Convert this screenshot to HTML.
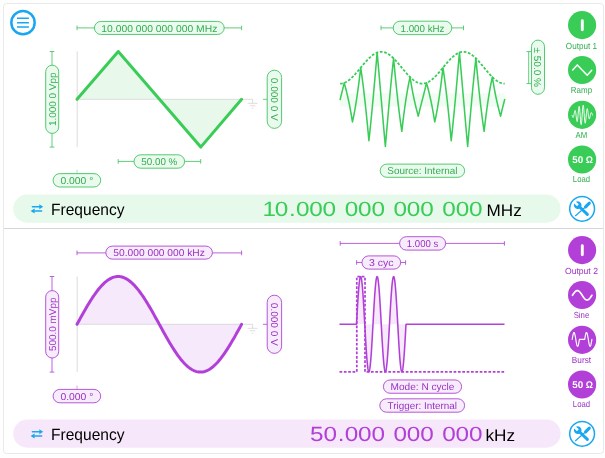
<!DOCTYPE html>
<html><head><meta charset="utf-8"><title>Waveform Generator</title>
<style>html,body{margin:0;padding:0;background:#fefefe;font-family:"Liberation Sans",sans-serif;}svg{display:block;will-change:transform;transform:translateZ(0);}</style></head>
<body>
<svg width="605" height="458" viewBox="0 0 605 458" font-family="'Liberation Sans', sans-serif" text-rendering="geometricPrecision">
<rect width="605" height="458" fill="#fefefe"/>
<rect x="3.5" y="3.5" width="600" height="450" rx="3.2" fill="#fff" stroke="#e9e9e9" stroke-width="1"/>
<path d="M4 228.5H603" stroke="#d6d6d6" stroke-width="1"/>
<circle cx="23" cy="22.7" r="11.65" fill="none" stroke="#19a7f1" stroke-width="2.5"/>
<path d="M17 18.3H28.9M17 22.65H28.9M17 27H28.9" stroke="#19a7f1" stroke-width="1.55"/>
<path d="M77.2 51.5V147.1" stroke="#d6d6d6" stroke-width="0.85" fill="none"/>
<path d="M77 99.3L118.25 51.5L200.75 147.1L241.6 99.3Z" fill="#e8f9ec" stroke="none"/>
<path d="M77 99.3H241.6" stroke="#cfcfcf" stroke-width="0.7" fill="none"/>
<path d="M241.6 99.3H252.6V103.3M247.6 103.3H257.6M249.8 105.8H255.4M251.8 108.3H253.4" stroke="#cfcfcf" stroke-width="0.7" fill="none"/>
<path d="M77 99.3L118.25 51.5L200.75 147.1L241.6 99.3" fill="none" stroke="#39cd58" stroke-width="3" stroke-linecap="round" stroke-linejoin="round"/>
<path d="M77 27.9H241.6M77 25.6V30.2M241.6 25.6V30.2" stroke="#37c156" stroke-width="0.8" fill="none"/>
<rect x="94.4" y="21.45" width="129.8" height="13" rx="6.5" fill="#ebfaee" stroke="#37c156" stroke-width="0.85"/>
<text x="159.3" y="31.6" font-size="9.9" fill="#31ae50" text-anchor="middle" textLength="116" lengthAdjust="spacingAndGlyphs">10.000 000 000 000 MHz</text>
<path d="M52 51.5V147.1M49.7 51.5H54.3M49.7 147.1H54.3" stroke="#37c156" stroke-width="0.8" fill="none"/>
<rect x="45.7" y="65.2" width="13" height="68.2" rx="6.5" fill="#ebfaee" stroke="#37c156" stroke-width="0.85"/>
<text transform="translate(52.2 99.3) rotate(-90)" x="0" y="3.65" font-size="9.9" fill="#31ae50" text-anchor="middle" textLength="53.5" lengthAdjust="spacingAndGlyphs">1.000 0 Vpp</text>
<path d="M263 99.3H267.2" stroke="#39cd58" stroke-width="0.8"/>
<rect x="267.2" y="70.2" width="14.4" height="58.2" rx="7.2" fill="#ebfaee" stroke="#37c156" stroke-width="0.85"/>
<text transform="translate(274.4 99.3) rotate(90)" x="0" y="3.65" font-size="9.9" fill="#31ae50" text-anchor="middle" textLength="43" lengthAdjust="spacingAndGlyphs">0.000 0 V</text>
<path d="M118.2 161.4H200.7M118.2 159.1V163.7M200.7 159.1V163.7" stroke="#37c156" stroke-width="0.8" fill="none"/>
<rect x="134" y="154.8" width="50.6" height="13.4" rx="6.7" fill="#ebfaee" stroke="#37c156" stroke-width="0.85"/>
<text x="159.3" y="165.15" font-size="9.9" fill="#31ae50" text-anchor="middle" textLength="36" lengthAdjust="spacingAndGlyphs">50.00 %</text>
<path d="M77 169.8V173.7" stroke="#39cd58" stroke-width="0.8" opacity="0.6"/>
<rect x="53.1" y="173.6" width="47.6" height="13.4" rx="6.7" fill="#ebfaee" stroke="#37c156" stroke-width="0.85"/>
<text x="76.9" y="183.95" font-size="9.9" fill="#31ae50" text-anchor="middle" textLength="33" lengthAdjust="spacingAndGlyphs">0.000 °</text>
<rect x="13.2" y="194.6" width="547.4" height="28.1" rx="14.05" fill="#e7f9eb"/>
<g fill="#19a7f1" stroke="#19a7f1" stroke-width="1.5" stroke-linecap="round"><path d="M32.4 206.7H39.5" fill="none"/><path d="M39.3 204.2L43.2 206.7L39.3 209.2Z" stroke="none"/><path d="M34.6 211.1H41.6" fill="none"/><path d="M34.6 208.6L30.6 211.1L34.6 213.6Z" stroke="none"/></g>
<text x="51" y="215.4" font-size="16.2" fill="#000" textLength="73.5" lengthAdjust="spacingAndGlyphs">Frequency</text>
<text transform="scale(1.18 1)" x="222.46 232.8 244.98 250.75 262.08 273.42 284.76 292.09 303.43 314.77 326.11 333.44 344.78 356.12 367.46 374.79 386.13 397.47" y="216.3" font-size="20.6" fill="#39cd58">10.000 000 000 000</text>
<text x="486.6" y="216" font-size="16.6" fill="#000" textLength="35.2" lengthAdjust="spacingAndGlyphs">MHz</text>
<circle cx="582.1" cy="208.8" r="12.4" fill="none" stroke="#19a7f1" stroke-width="1.5"/>
<g transform="translate(582.1 208.8)" fill="#19a7f1" stroke="#19a7f1"><path d="M3.5 -1.9L7.2 -5.7" stroke-width="3.1" stroke-linecap="round" fill="none"/><path d="M3.6 -2L-6.6 6.9" stroke-width="1.15" stroke-linecap="round" fill="none"/><g transform="translate(-4.4 -3.7) rotate(223.8)"><path d="M-2 0H-13.4" stroke-width="2.95" stroke-linecap="round" fill="none"/><path d="M-0.3 -1.3L3.62 -1.3A3.85 3.85 0 1 0 3.62 1.3L-0.3 1.3Z" stroke="none"/></g></g>
<circle cx="582.1" cy="25.1" r="14.1" fill="#39cd58"/>
<text x="581.45" y="48.7" font-size="8.8" fill="#31ae50" text-anchor="middle" textLength="31.2" lengthAdjust="spacingAndGlyphs">Output 1</text>
<circle cx="582.1" cy="70" r="14.1" fill="#39cd58"/>
<text x="581.45" y="93.35" font-size="8.8" fill="#31ae50" text-anchor="middle" textLength="21.3" lengthAdjust="spacingAndGlyphs">Ramp</text>
<circle cx="582.1" cy="114.8" r="14.1" fill="#39cd58"/>
<text x="581.45" y="138.05" font-size="8.8" fill="#31ae50" text-anchor="middle" textLength="11.7" lengthAdjust="spacingAndGlyphs">AM</text>
<circle cx="582.1" cy="159.5" r="14.1" fill="#39cd58"/>
<text x="581.45" y="182.2" font-size="8.8" fill="#31ae50" text-anchor="middle" textLength="17.2" lengthAdjust="spacingAndGlyphs">Load</text>
<path d="M582.3 20.8V29.8" stroke="#fff" stroke-width="2.9" stroke-linecap="round"/>
<path d="M572.7 70L577.3 64.9L587.2 75.3L591.7 70.3" fill="none" stroke="#fff" stroke-width="1.5" stroke-linecap="round" stroke-linejoin="round"/>
<path d="M572.1 115.42L572.2 115.73L572.3 116.05L572.41 116.35L572.51 116.64L572.61 116.9L572.71 117.12L572.81 117.3L572.92 117.43L573.02 117.5L573.12 117.5L573.22 117.43L573.32 117.3L573.43 117.09L573.53 116.81L573.63 116.47L573.73 116.06L573.83 115.6L573.94 115.1L574.04 114.57L574.14 114.01L574.24 113.44L574.34 112.89L574.45 112.35L574.55 111.86L574.65 111.42L574.75 111.04L574.85 110.75L574.96 110.55L575.06 110.45L575.16 110.47L575.26 110.6L575.36 110.84L575.47 111.21L575.57 111.68L575.67 112.26L575.77 112.93L575.87 113.68L575.98 114.49L576.08 115.35L576.18 116.23L576.28 117.11L576.38 117.97L576.49 118.79L576.59 119.53L576.69 120.19L576.79 120.74L576.89 121.15L577 121.42L577.1 121.54L577.2 121.49L577.3 121.27L577.4 120.88L577.51 120.33L577.61 119.62L577.71 118.78L577.81 117.81L577.91 116.73L578.02 115.59L578.12 114.39L578.22 113.18L578.32 111.97L578.42 110.82L578.53 109.73L578.63 108.75L578.73 107.9L578.83 107.21L578.93 106.7L579.04 106.38L579.14 106.27L579.24 106.37L579.34 106.69L579.44 107.22L579.55 107.95L579.65 108.87L579.75 109.95L579.85 111.17L579.95 112.51L580.06 113.92L580.16 115.37L580.26 116.83L580.36 118.26L580.46 119.63L580.57 120.89L580.67 122.01L580.77 122.96L580.87 123.73L580.97 124.28L581.08 124.6L581.18 124.68L581.28 124.52L581.38 124.12L581.48 123.49L581.59 122.65L581.69 121.61L581.79 120.4L581.89 119.06L581.99 117.61L582.1 116.1L582.2 114.55L582.3 113.02L582.4 111.53L582.5 110.14L582.61 108.86L582.71 107.74L582.81 106.8L582.91 106.07L583.01 105.56L583.12 105.28L583.22 105.24L583.32 105.44L583.42 105.87L583.52 106.52L583.63 107.37L583.73 108.4L583.83 109.57L583.93 110.86L584.03 112.23L584.14 113.65L584.24 115.08L584.34 116.49L584.44 117.83L584.54 119.08L584.65 120.2L584.75 121.18L584.85 121.98L584.95 122.59L585.05 123.01L585.16 123.21L585.26 123.21L585.36 123L585.46 122.6L585.56 122.01L585.67 121.27L585.77 120.39L585.87 119.39L585.97 118.32L586.07 117.18L586.18 116.02L586.28 114.87L586.38 113.74L586.48 112.68L586.58 111.71L586.69 110.84L586.79 110.1L586.89 109.51L586.99 109.06L587.09 108.77L587.2 108.64L587.3 108.67L587.4 108.86L587.5 109.18L587.6 109.64L587.71 110.2L587.81 110.86L587.91 111.6L588.01 112.39L588.11 113.2L588.22 114.03L588.32 114.85L588.42 115.63L588.52 116.36L588.62 117.02L588.73 117.6L588.83 118.09L588.93 118.48L589.03 118.76L589.13 118.94L589.24 119L589.34 118.96L589.44 118.83L589.54 118.6L589.64 118.29L589.75 117.92L589.85 117.48L589.95 117.01L590.05 116.51L590.15 116L590.26 115.48L590.36 114.98L590.46 114.51L590.56 114.07L590.66 113.67L590.77 113.33L590.87 113.05L590.97 112.83L591.07 112.67L591.17 112.58L591.28 112.56L591.38 112.59L591.48 112.68L591.58 112.81L591.68 112.99L591.79 113.21L591.89 113.46L591.99 113.72L592.09 114L592.19 114.28L592.3 114.56L592.4 114.83L592.5 115.08" fill="none" stroke="#fff" stroke-width="1.0" stroke-linecap="round" stroke-linejoin="round"/>
<text x="572.2" y="162.95" font-size="9.8" font-weight="bold" fill="#fff" textLength="10.9" lengthAdjust="spacingAndGlyphs">50</text>
<text x="585.7" y="162.95" font-size="9.8" font-weight="bold" fill="#fff" textLength="7.2" lengthAdjust="spacingAndGlyphs">Ω</text>
<rect x="340.1" y="93.5" width="164.6" height="13" fill="#f1fcf3"/>
<path d="M340.1 99.5L340.31 98.7L340.51 97.91L340.72 97.11L340.92 96.31L341.13 95.51L341.33 94.71L341.54 93.9L341.75 93.09L341.95 92.27L342.16 91.45L342.36 90.62L342.57 89.79L342.77 88.95L342.98 88.1L343.19 87.25L343.39 86.38L343.6 85.51L343.8 84.62L344.01 83.73L344.22 82.82L344.42 83.58L344.63 84.34L344.83 85.11L345.04 85.89L345.24 86.67L345.45 87.45L345.66 88.25L345.86 89.05L346.07 89.86L346.27 90.68L346.48 91.51L346.68 92.35L346.89 93.2L347.1 94.07L347.3 94.94L347.51 95.82L347.71 96.72L347.92 97.64L348.12 98.56L348.33 99.5L348.54 100.45L348.74 101.42L348.95 102.41L349.15 103.41L349.36 104.43L349.56 105.46L349.77 106.51L349.98 107.58L350.18 108.67L350.39 109.78L350.59 110.9L350.8 112.05L351 113.21L351.21 114.4L351.42 115.61L351.62 116.83L351.83 118.08L352.03 119.35L352.24 120.64L352.44 121.95L352.65 121.02L352.86 120.08L353.06 119.11L353.27 118.12L353.47 117.12L353.68 116.09L353.89 115.05L354.09 113.98L354.3 112.9L354.5 111.79L354.71 110.66L354.91 109.51L355.12 108.34L355.33 107.15L355.53 105.93L355.74 104.69L355.94 103.43L356.15 102.14L356.35 100.83L356.56 99.5L356.77 98.14L356.97 96.76L357.18 95.36L357.38 93.93L357.59 92.48L357.79 91L358 89.5L358.21 87.97L358.41 86.42L358.62 84.84L358.82 83.24L359.03 81.62L359.23 79.96L359.44 78.29L359.65 76.59L359.85 74.86L360.06 73.11L360.26 71.33L360.47 69.53L360.68 67.7L360.88 69.05L361.09 70.43L361.29 71.83L361.5 73.26L361.7 74.71L361.91 76.19L362.12 77.7L362.32 79.22L362.53 80.78L362.73 82.36L362.94 83.96L363.14 85.59L363.35 87.24L363.56 88.92L363.76 90.62L363.97 92.35L364.17 94.1L364.38 95.88L364.58 97.68L364.79 99.5L365 101.35L365.2 103.22L365.41 105.11L365.61 107.03L365.82 108.97L366.02 110.93L366.23 112.92L366.44 114.93L366.64 116.96L366.85 119.01L367.05 121.08L367.26 123.18L367.46 125.29L367.67 127.43L367.88 129.58L368.08 131.76L368.29 133.95L368.49 136.16L368.7 138.4L368.91 140.65L369.11 138.78L369.32 136.89L369.52 134.98L369.73 133.05L369.93 131.09L370.14 129.12L370.35 127.13L370.55 125.11L370.76 123.08L370.96 121.02L371.17 118.95L371.37 116.86L371.58 114.75L371.79 112.62L371.99 110.47L372.2 108.31L372.4 106.13L372.61 103.94L372.81 101.73L373.02 99.5L373.23 97.26L373.43 95L373.64 92.74L373.84 90.46L374.05 88.16L374.25 85.85L374.46 83.54L374.67 81.21L374.87 78.87L375.08 76.52L375.28 74.16L375.49 71.79L375.69 69.41L375.9 67.03L376.11 64.63L376.31 62.23L376.52 59.83L376.72 57.42L376.93 55L377.13 52.58L377.34 54.85L377.55 57.14L377.75 59.43L377.96 61.74L378.16 64.05L378.37 66.38L378.58 68.71L378.78 71.05L378.99 73.4L379.19 75.75L379.4 78.11L379.6 80.47L379.81 82.84L380.02 85.21L380.22 87.59L380.43 89.97L380.63 92.35L380.84 94.73L381.04 97.12L381.25 99.5L381.46 101.88L381.66 104.27L381.87 106.65L382.07 109.03L382.28 111.41L382.48 113.79L382.69 116.16L382.9 118.53L383.1 120.89L383.31 123.25L383.51 125.6L383.72 127.95L383.92 130.29L384.13 132.62L384.34 134.95L384.54 137.26L384.75 139.57L384.95 141.86L385.16 144.15L385.37 146.42L385.57 144L385.78 141.58L385.98 139.17L386.19 136.77L386.39 134.37L386.6 131.97L386.81 129.59L387.01 127.21L387.22 124.84L387.42 122.48L387.63 120.13L387.83 117.79L388.04 115.46L388.25 113.15L388.45 110.84L388.66 108.54L388.86 106.26L389.07 104L389.27 101.74L389.48 99.5L389.69 97.27L389.89 95.06L390.1 92.87L390.3 90.69L390.51 88.53L390.71 86.38L390.92 84.25L391.13 82.14L391.33 80.05L391.54 77.98L391.74 75.92L391.95 73.89L392.15 71.87L392.36 69.88L392.57 67.91L392.77 65.95L392.98 64.02L393.18 62.11L393.39 60.22L393.6 58.35L393.8 60.6L394.01 62.84L394.21 65.05L394.42 67.24L394.62 69.42L394.83 71.57L395.04 73.71L395.24 75.82L395.45 77.92L395.65 79.99L395.86 82.04L396.06 84.07L396.27 86.08L396.48 88.07L396.68 90.03L396.89 91.97L397.09 93.89L397.3 95.78L397.5 97.65L397.71 99.5L397.92 101.32L398.12 103.12L398.33 104.9L398.53 106.65L398.74 108.38L398.94 110.08L399.15 111.76L399.36 113.41L399.56 115.04L399.77 116.64L399.97 118.22L400.18 119.78L400.38 121.3L400.59 122.81L400.8 124.29L401 125.74L401.21 127.17L401.41 128.57L401.62 129.95L401.82 131.3L402.03 129.47L402.24 127.67L402.44 125.89L402.65 124.14L402.85 122.41L403.06 120.71L403.27 119.04L403.47 117.38L403.68 115.76L403.88 114.16L404.09 112.58L404.29 111.03L404.5 109.5L404.71 108L404.91 106.52L405.12 105.07L405.32 103.64L405.53 102.24L405.73 100.86L405.94 99.5L406.15 98.17L406.35 96.86L406.56 95.57L406.76 94.31L406.97 93.07L407.17 91.85L407.38 90.66L407.59 89.49L407.79 88.34L408 87.21L408.2 86.1L408.41 85.02L408.61 83.95L408.82 82.91L409.03 81.88L409.23 80.88L409.44 79.89L409.64 78.92L409.85 77.98L410.06 77.05L410.26 78.36L410.47 79.65L410.67 80.92L410.88 82.17L411.08 83.39L411.29 84.6L411.5 85.79L411.7 86.95L411.91 88.1L412.11 89.22L412.32 90.33L412.52 91.42L412.73 92.49L412.94 93.54L413.14 94.57L413.35 95.59L413.55 96.59L413.76 97.58L413.96 98.55L414.17 99.5L414.38 100.44L414.58 101.36L414.79 102.28L414.99 103.18L415.2 104.06L415.4 104.93L415.61 105.8L415.82 106.65L416.02 107.49L416.23 108.32L416.43 109.14L416.64 109.95L416.84 110.75L417.05 111.55L417.26 112.33L417.46 113.11L417.67 113.89L417.87 114.66L418.08 115.42L418.28 116.18L418.49 115.27L418.7 114.38L418.9 113.49L419.11 112.62L419.31 111.75L419.52 110.9L419.73 110.05L419.93 109.21L420.14 108.38L420.34 107.55L420.55 106.73L420.75 105.91L420.96 105.1L421.17 104.29L421.37 103.49L421.58 102.69L421.78 101.89L421.99 101.09L422.19 100.3L422.4 99.5L422.61 98.7L422.81 97.91L423.02 97.11L423.22 96.31L423.43 95.51L423.63 94.71L423.84 93.9L424.05 93.09L424.25 92.27L424.46 91.45L424.66 90.62L424.87 89.79L425.07 88.95L425.28 88.1L425.49 87.25L425.69 86.38L425.9 85.51L426.1 84.62L426.31 83.73L426.51 82.82L426.72 83.58L426.93 84.34L427.13 85.11L427.34 85.89L427.54 86.67L427.75 87.45L427.96 88.25L428.16 89.05L428.37 89.86L428.57 90.68L428.78 91.51L428.98 92.35L429.19 93.2L429.4 94.07L429.6 94.94L429.81 95.82L430.01 96.72L430.22 97.64L430.42 98.56L430.63 99.5L430.84 100.45L431.04 101.42L431.25 102.41L431.45 103.41L431.66 104.43L431.86 105.46L432.07 106.51L432.28 107.58L432.48 108.67L432.69 109.78L432.89 110.9L433.1 112.05L433.3 113.21L433.51 114.4L433.72 115.61L433.92 116.83L434.13 118.08L434.33 119.35L434.54 120.64L434.75 121.95L434.95 121.02L435.16 120.08L435.36 119.11L435.57 118.12L435.77 117.12L435.98 116.09L436.19 115.05L436.39 113.98L436.6 112.9L436.8 111.79L437.01 110.66L437.21 109.51L437.42 108.34L437.63 107.15L437.83 105.93L438.04 104.69L438.24 103.43L438.45 102.14L438.65 100.83L438.86 99.5L439.07 98.14L439.27 96.76L439.48 95.36L439.68 93.93L439.89 92.48L440.09 91L440.3 89.5L440.51 87.97L440.71 86.42L440.92 84.84L441.12 83.24L441.33 81.62L441.53 79.96L441.74 78.29L441.95 76.59L442.15 74.86L442.36 73.11L442.56 71.33L442.77 69.53L442.98 67.7L443.18 69.05L443.39 70.43L443.59 71.83L443.8 73.26L444 74.71L444.21 76.19L444.42 77.7L444.62 79.22L444.83 80.78L445.03 82.36L445.24 83.96L445.44 85.59L445.65 87.24L445.86 88.92L446.06 90.62L446.27 92.35L446.47 94.1L446.68 95.88L446.88 97.68L447.09 99.5L447.3 101.35L447.5 103.22L447.71 105.11L447.91 107.03L448.12 108.97L448.32 110.93L448.53 112.92L448.74 114.93L448.94 116.96L449.15 119.01L449.35 121.08L449.56 123.18L449.76 125.29L449.97 127.43L450.18 129.58L450.38 131.76L450.59 133.95L450.79 136.16L451 138.4L451.21 140.65L451.41 138.78L451.62 136.89L451.82 134.98L452.03 133.05L452.23 131.09L452.44 129.12L452.65 127.13L452.85 125.11L453.06 123.08L453.26 121.02L453.47 118.95L453.67 116.86L453.88 114.75L454.09 112.62L454.29 110.47L454.5 108.31L454.7 106.13L454.91 103.94L455.11 101.73L455.32 99.5L455.53 97.26L455.73 95L455.94 92.74L456.14 90.46L456.35 88.16L456.55 85.85L456.76 83.54L456.97 81.21L457.17 78.87L457.38 76.52L457.58 74.16L457.79 71.79L457.99 69.41L458.2 67.03L458.41 64.63L458.61 62.23L458.82 59.83L459.02 57.42L459.23 55L459.44 52.58L459.64 54.85L459.85 57.14L460.05 59.43L460.26 61.74L460.46 64.05L460.67 66.38L460.88 68.71L461.08 71.05L461.29 73.4L461.49 75.75L461.7 78.11L461.9 80.47L462.11 82.84L462.32 85.21L462.52 87.59L462.73 89.97L462.93 92.35L463.14 94.73L463.34 97.12L463.55 99.5L463.76 101.88L463.96 104.27L464.17 106.65L464.37 109.03L464.58 111.41L464.78 113.79L464.99 116.16L465.2 118.53L465.4 120.89L465.61 123.25L465.81 125.6L466.02 127.95L466.22 130.29L466.43 132.62L466.64 134.95L466.84 137.26L467.05 139.57L467.25 141.86L467.46 144.15L467.67 146.42L467.87 144L468.08 141.58L468.28 139.17L468.49 136.77L468.69 134.37L468.9 131.97L469.11 129.59L469.31 127.21L469.52 124.84L469.72 122.48L469.93 120.13L470.13 117.79L470.34 115.46L470.55 113.15L470.75 110.84L470.96 108.54L471.16 106.26L471.37 104L471.57 101.74L471.78 99.5L471.99 97.27L472.19 95.06L472.4 92.87L472.6 90.69L472.81 88.53L473.01 86.38L473.22 84.25L473.43 82.14L473.63 80.05L473.84 77.98L474.04 75.92L474.25 73.89L474.45 71.87L474.66 69.88L474.87 67.91L475.07 65.95L475.28 64.02L475.48 62.11L475.69 60.22L475.89 58.35L476.1 60.6L476.31 62.84L476.51 65.05L476.72 67.24L476.92 69.42L477.13 71.57L477.34 73.71L477.54 75.82L477.75 77.92L477.95 79.99L478.16 82.04L478.36 84.07L478.57 86.08L478.78 88.07L478.98 90.03L479.19 91.97L479.39 93.89L479.6 95.78L479.8 97.65L480.01 99.5L480.22 101.32L480.42 103.12L480.63 104.9L480.83 106.65L481.04 108.38L481.24 110.08L481.45 111.76L481.66 113.41L481.86 115.04L482.07 116.64L482.27 118.22L482.48 119.78L482.68 121.3L482.89 122.81L483.1 124.29L483.3 125.74L483.51 127.17L483.71 128.57L483.92 129.95L484.12 131.3L484.33 129.47L484.54 127.67L484.74 125.89L484.95 124.14L485.15 122.41L485.36 120.71L485.57 119.04L485.77 117.38L485.98 115.76L486.18 114.16L486.39 112.58L486.59 111.03L486.8 109.5L487.01 108L487.21 106.52L487.42 105.07L487.62 103.64L487.83 102.24L488.03 100.86L488.24 99.5L488.45 98.17L488.65 96.86L488.86 95.57L489.06 94.31L489.27 93.07L489.47 91.85L489.68 90.66L489.89 89.49L490.09 88.34L490.3 87.21L490.5 86.1L490.71 85.02L490.91 83.95L491.12 82.91L491.33 81.88L491.53 80.88L491.74 79.89L491.94 78.92L492.15 77.98L492.36 77.05L492.56 78.36L492.77 79.65L492.97 80.92L493.18 82.17L493.38 83.39L493.59 84.6L493.8 85.79L494 86.95L494.21 88.1L494.41 89.22L494.62 90.33L494.82 91.42L495.03 92.49L495.24 93.54L495.44 94.57L495.65 95.59L495.85 96.59L496.06 97.58L496.26 98.55L496.47 99.5L496.68 100.44L496.88 101.36L497.09 102.28L497.29 103.18L497.5 104.06L497.7 104.93L497.91 105.8L498.12 106.65L498.32 107.49L498.53 108.32L498.73 109.14L498.94 109.95L499.14 110.75L499.35 111.55L499.56 112.33L499.76 113.11L499.97 113.89L500.17 114.66L500.38 115.42L500.58 116.18L500.79 115.27L501 114.38L501.2 113.49L501.41 112.62L501.61 111.75L501.82 110.9L502.03 110.05L502.23 109.21L502.44 108.38L502.64 107.55L502.85 106.73L503.05 105.91L503.26 105.1L503.47 104.29L503.67 103.49L503.88 102.69L504.08 101.89L504.29 101.09L504.49 100.3L504.7 99.5" fill="none" stroke="#39cd58" stroke-width="1.55" stroke-linejoin="round" stroke-linecap="round"/>
<path d="M340.1 83.6L341.1 83.55L342.1 83.42L343.09 83.19L344.09 82.87L345.09 82.46L346.09 81.97L347.08 81.39L348.08 80.74L349.08 80.01L350.08 79.21L351.07 78.34L352.07 77.41L353.07 76.42L354.07 75.39L355.06 74.31L356.06 73.19L357.06 72.03L358.06 70.86L359.05 69.66L360.05 68.46L361.05 67.25L362.05 66.04L363.04 64.84L364.04 63.66L365.04 62.5L366.04 61.37L367.03 60.28L368.03 59.23L369.03 58.23L370.03 57.29L371.02 56.4L372.02 55.59L373.02 54.84L374.02 54.16L375.02 53.57L376.01 53.05L377.01 52.63L378.01 52.28L379.01 52.03L380 51.87L381 51.8L382 51.83L383 51.94L383.99 52.15L384.99 52.44L385.99 52.83L386.99 53.3L387.98 53.86L388.98 54.49L389.98 55.2L390.98 55.99L391.97 56.84L392.97 57.75L393.97 58.73L394.97 59.75L395.96 60.82L396.96 61.93L397.96 63.08L398.96 64.25L399.95 65.44L400.95 66.64L401.95 67.85L402.95 69.06L403.94 70.26L404.94 71.45L405.94 72.61L406.94 73.75L407.94 74.85L408.93 75.91L409.93 76.92L410.93 77.88L411.93 78.78L412.92 79.62L413.92 80.38L414.92 81.08L415.92 81.69L416.91 82.23L417.91 82.68L418.91 83.04L419.91 83.31L420.9 83.5L421.9 83.59L422.9 83.59L423.9 83.5L424.89 83.31L425.89 83.04L426.89 82.68L427.89 82.23L428.88 81.69L429.88 81.08L430.88 80.38L431.88 79.62L432.87 78.78L433.87 77.88L434.87 76.92L435.87 75.91L436.86 74.85L437.86 73.75L438.86 72.61L439.86 71.45L440.86 70.26L441.85 69.06L442.85 67.85L443.85 66.64L444.85 65.44L445.84 64.25L446.84 63.08L447.84 61.93L448.84 60.82L449.83 59.75L450.83 58.73L451.83 57.75L452.83 56.84L453.82 55.99L454.82 55.2L455.82 54.49L456.82 53.86L457.81 53.3L458.81 52.83L459.81 52.44L460.81 52.15L461.8 51.94L462.8 51.83L463.8 51.8L464.8 51.87L465.79 52.03L466.79 52.28L467.79 52.63L468.79 53.05L469.78 53.57L470.78 54.16L471.78 54.84L472.78 55.59L473.78 56.4L474.77 57.29L475.77 58.23L476.77 59.23L477.77 60.28L478.76 61.37L479.76 62.5L480.76 63.66L481.76 64.84L482.75 66.04L483.75 67.25L484.75 68.46L485.75 69.66L486.74 70.86L487.74 72.03L488.74 73.19L489.74 74.31L490.73 75.39L491.73 76.42L492.73 77.41L493.73 78.34L494.72 79.21L495.72 80.01L496.72 80.74L497.72 81.39L498.71 81.97L499.71 82.46L500.71 82.87L501.71 83.19L502.7 83.42L503.7 83.55L504.7 83.6" fill="none" stroke="#39cd58" stroke-width="1.8" stroke-dasharray="2.7 1.65"/>
<path d="M381 27.9H463.5M381 25.6V30.2M463.5 25.6V30.2" stroke="#37c156" stroke-width="0.8" fill="none"/>
<rect x="393.2" y="21.2" width="58.6" height="13.4" rx="6.7" fill="#ebfaee" stroke="#37c156" stroke-width="0.85"/>
<text x="422.5" y="31.55" font-size="9.9" fill="#31ae50" text-anchor="middle" textLength="44" lengthAdjust="spacingAndGlyphs">1.000 kHz</text>
<path d="M528.7 51.6V83.6M526.4 51.6H531M526.4 83.6H531" stroke="#37c156" stroke-width="0.8" fill="none"/>
<rect x="531.5" y="40.1" width="13" height="54.2" rx="6.5" fill="#ebfaee" stroke="#37c156" stroke-width="0.85"/>
<text transform="translate(538 67.2) rotate(90)" x="0" y="3.65" font-size="9.9" fill="#31ae50" text-anchor="middle" textLength="39.5" lengthAdjust="spacingAndGlyphs">± 50.0 %</text>
<rect x="380.2" y="164.1" width="84.4" height="13.2" rx="6.6" fill="#ebfaee" stroke="#37c156" stroke-width="0.85"/>
<text x="422.4" y="174.35" font-size="9.9" fill="#31ae50" text-anchor="middle" textLength="70.2" lengthAdjust="spacingAndGlyphs">Source: Internal</text>
<path d="M77.2 276.5V372.1" stroke="#d6d6d6" stroke-width="0.85" fill="none"/>
<path d="M77 324.3L78 322.48L79 320.66L79.99 318.85L80.99 317.05L81.99 315.25L82.99 313.47L83.98 311.71L84.98 309.96L85.98 308.24L86.98 306.53L87.97 304.86L88.97 303.21L89.97 301.59L90.97 300.01L91.96 298.46L92.96 296.95L93.96 295.47L94.96 294.04L95.95 292.66L96.95 291.31L97.95 290.02L98.95 288.78L99.94 287.59L100.94 286.45L101.94 285.36L102.94 284.34L103.93 283.37L104.93 282.46L105.93 281.61L106.93 280.82L107.92 280.1L108.92 279.43L109.92 278.84L110.92 278.31L111.92 277.85L112.91 277.45L113.91 277.12L114.91 276.87L115.91 276.68L116.9 276.55L117.9 276.5L118.9 276.52L119.9 276.61L120.89 276.76L121.89 276.99L122.89 277.28L123.89 277.64L124.88 278.07L125.88 278.57L126.88 279.13L127.88 279.76L128.87 280.45L129.87 281.21L130.87 282.02L131.87 282.9L132.86 283.84L133.86 284.84L134.86 285.9L135.86 287.01L136.85 288.18L137.85 289.39L138.85 290.66L139.85 291.98L140.84 293.34L141.84 294.75L142.84 296.2L143.84 297.7L144.84 299.23L145.83 300.8L146.83 302.4L147.83 304.03L148.83 305.69L149.82 307.38L150.82 309.1L151.82 310.83L152.82 312.59L153.81 314.36L154.81 316.15L155.81 317.95L156.81 319.76L157.8 321.57L158.8 323.39L159.8 325.21L160.8 327.03L161.79 328.84L162.79 330.65L163.79 332.45L164.79 334.24L165.78 336.01L166.78 337.77L167.78 339.5L168.78 341.22L169.77 342.91L170.77 344.57L171.77 346.2L172.77 347.8L173.76 349.37L174.76 350.9L175.76 352.4L176.76 353.85L177.76 355.26L178.75 356.62L179.75 357.94L180.75 359.21L181.75 360.42L182.74 361.59L183.74 362.7L184.74 363.76L185.74 364.76L186.73 365.7L187.73 366.58L188.73 367.39L189.73 368.15L190.72 368.84L191.72 369.47L192.72 370.03L193.72 370.53L194.71 370.96L195.71 371.32L196.71 371.61L197.71 371.84L198.7 371.99L199.7 372.08L200.7 372.1L201.7 372.05L202.69 371.92L203.69 371.73L204.69 371.48L205.69 371.15L206.68 370.75L207.68 370.29L208.68 369.76L209.68 369.17L210.68 368.5L211.67 367.78L212.67 366.99L213.67 366.14L214.67 365.23L215.66 364.26L216.66 363.24L217.66 362.15L218.66 361.01L219.65 359.82L220.65 358.58L221.65 357.29L222.65 355.94L223.64 354.56L224.64 353.13L225.64 351.65L226.64 350.14L227.63 348.59L228.63 347.01L229.63 345.39L230.63 343.74L231.62 342.07L232.62 340.36L233.62 338.64L234.62 336.89L235.61 335.13L236.61 333.35L237.61 331.55L238.61 329.75L239.6 327.94L240.6 326.12L241.6 324.3Z" fill="#f6e9fb" stroke="none"/>
<path d="M77 324.3H241.6" stroke="#cfcfcf" stroke-width="0.7" fill="none"/>
<path d="M241.6 324.3H252.6V328.3M247.6 328.3H257.6M249.8 330.8H255.4M251.8 333.3H253.4" stroke="#cfcfcf" stroke-width="0.7" fill="none"/>
<path d="M77 324.3L78 322.48L79 320.66L79.99 318.85L80.99 317.05L81.99 315.25L82.99 313.47L83.98 311.71L84.98 309.96L85.98 308.24L86.98 306.53L87.97 304.86L88.97 303.21L89.97 301.59L90.97 300.01L91.96 298.46L92.96 296.95L93.96 295.47L94.96 294.04L95.95 292.66L96.95 291.31L97.95 290.02L98.95 288.78L99.94 287.59L100.94 286.45L101.94 285.36L102.94 284.34L103.93 283.37L104.93 282.46L105.93 281.61L106.93 280.82L107.92 280.1L108.92 279.43L109.92 278.84L110.92 278.31L111.92 277.85L112.91 277.45L113.91 277.12L114.91 276.87L115.91 276.68L116.9 276.55L117.9 276.5L118.9 276.52L119.9 276.61L120.89 276.76L121.89 276.99L122.89 277.28L123.89 277.64L124.88 278.07L125.88 278.57L126.88 279.13L127.88 279.76L128.87 280.45L129.87 281.21L130.87 282.02L131.87 282.9L132.86 283.84L133.86 284.84L134.86 285.9L135.86 287.01L136.85 288.18L137.85 289.39L138.85 290.66L139.85 291.98L140.84 293.34L141.84 294.75L142.84 296.2L143.84 297.7L144.84 299.23L145.83 300.8L146.83 302.4L147.83 304.03L148.83 305.69L149.82 307.38L150.82 309.1L151.82 310.83L152.82 312.59L153.81 314.36L154.81 316.15L155.81 317.95L156.81 319.76L157.8 321.57L158.8 323.39L159.8 325.21L160.8 327.03L161.79 328.84L162.79 330.65L163.79 332.45L164.79 334.24L165.78 336.01L166.78 337.77L167.78 339.5L168.78 341.22L169.77 342.91L170.77 344.57L171.77 346.2L172.77 347.8L173.76 349.37L174.76 350.9L175.76 352.4L176.76 353.85L177.76 355.26L178.75 356.62L179.75 357.94L180.75 359.21L181.75 360.42L182.74 361.59L183.74 362.7L184.74 363.76L185.74 364.76L186.73 365.7L187.73 366.58L188.73 367.39L189.73 368.15L190.72 368.84L191.72 369.47L192.72 370.03L193.72 370.53L194.71 370.96L195.71 371.32L196.71 371.61L197.71 371.84L198.7 371.99L199.7 372.08L200.7 372.1L201.7 372.05L202.69 371.92L203.69 371.73L204.69 371.48L205.69 371.15L206.68 370.75L207.68 370.29L208.68 369.76L209.68 369.17L210.68 368.5L211.67 367.78L212.67 366.99L213.67 366.14L214.67 365.23L215.66 364.26L216.66 363.24L217.66 362.15L218.66 361.01L219.65 359.82L220.65 358.58L221.65 357.29L222.65 355.94L223.64 354.56L224.64 353.13L225.64 351.65L226.64 350.14L227.63 348.59L228.63 347.01L229.63 345.39L230.63 343.74L231.62 342.07L232.62 340.36L233.62 338.64L234.62 336.89L235.61 335.13L236.61 333.35L237.61 331.55L238.61 329.75L239.6 327.94L240.6 326.12L241.6 324.3" fill="none" stroke="#b240d8" stroke-width="3" stroke-linecap="round" stroke-linejoin="round"/>
<path d="M77 252.9H241.6M77 250.6V255.2M241.6 250.6V255.2" stroke="#a93bd0" stroke-width="0.8" fill="none"/>
<rect x="105.8" y="246.1" width="106.6" height="13" rx="6.5" fill="#f7ecfb" stroke="#a93bd0" stroke-width="0.85"/>
<text x="159.1" y="256.25" font-size="9.9" fill="#9b30c3" text-anchor="middle" textLength="91.5" lengthAdjust="spacingAndGlyphs">50.000 000 000 kHz</text>
<path d="M52 276.5V372.1M49.7 276.5H54.3M49.7 372.1H54.3" stroke="#a93bd0" stroke-width="0.8" fill="none"/>
<rect x="45.7" y="290.6" width="13" height="67.4" rx="6.5" fill="#f7ecfb" stroke="#a93bd0" stroke-width="0.85"/>
<text transform="translate(52.2 324.3) rotate(-90)" x="0" y="3.65" font-size="9.9" fill="#9b30c3" text-anchor="middle" textLength="53.5" lengthAdjust="spacingAndGlyphs">500.0 mVpp</text>
<path d="M263 324.3H267.2" stroke="#b240d8" stroke-width="0.8"/>
<rect x="267.2" y="295.2" width="14.4" height="58.2" rx="7.2" fill="#f7ecfb" stroke="#a93bd0" stroke-width="0.85"/>
<text transform="translate(274.4 324.3) rotate(90)" x="0" y="3.65" font-size="9.9" fill="#9b30c3" text-anchor="middle" textLength="43" lengthAdjust="spacingAndGlyphs">0.000 0 V</text>
<path d="M77 385.6V389.5" stroke="#b240d8" stroke-width="0.8" opacity="0.6"/>
<rect x="53.1" y="389.4" width="47.6" height="13.4" rx="6.7" fill="#f7ecfb" stroke="#a93bd0" stroke-width="0.85"/>
<text x="76.9" y="399.75" font-size="9.9" fill="#9b30c3" text-anchor="middle" textLength="33" lengthAdjust="spacingAndGlyphs">0.000 °</text>
<rect x="13.2" y="419.6" width="547.4" height="28.1" rx="14.05" fill="#f6e8fa"/>
<g fill="#19a7f1" stroke="#19a7f1" stroke-width="1.5" stroke-linecap="round"><path d="M32.4 431.7H39.5" fill="none"/><path d="M39.3 429.2L43.2 431.7L39.3 434.2Z" stroke="none"/><path d="M34.6 436.1H41.6" fill="none"/><path d="M34.6 433.6L30.6 436.1L34.6 438.6Z" stroke="none"/></g>
<text x="51" y="440.4" font-size="16.2" fill="#000" textLength="73.5" lengthAdjust="spacingAndGlyphs">Frequency</text>
<text transform="scale(1.18 1)" x="262.71 274.05 286.15 292.08 303.42 314.76 326.1 333.43 344.77 356.11 367.45 374.78 386.12 397.46" y="441.3" font-size="20.6" fill="#b240d8">50.000 000 000</text>
<text x="485.4" y="441" font-size="16.6" fill="#000" textLength="29.6" lengthAdjust="spacingAndGlyphs">kHz</text>
<circle cx="582.1" cy="433.8" r="12.4" fill="none" stroke="#19a7f1" stroke-width="1.5"/>
<g transform="translate(582.1 433.8)" fill="#19a7f1" stroke="#19a7f1"><path d="M3.5 -1.9L7.2 -5.7" stroke-width="3.1" stroke-linecap="round" fill="none"/><path d="M3.6 -2L-6.6 6.9" stroke-width="1.15" stroke-linecap="round" fill="none"/><g transform="translate(-4.4 -3.7) rotate(223.8)"><path d="M-2 0H-13.4" stroke-width="2.95" stroke-linecap="round" fill="none"/><path d="M-0.3 -1.3L3.62 -1.3A3.85 3.85 0 1 0 3.62 1.3L-0.3 1.3Z" stroke="none"/></g></g>
<circle cx="582.1" cy="250.1" r="14.1" fill="#b240d8"/>
<text x="581.45" y="273.7" font-size="8.8" fill="#9b30c3" text-anchor="middle" textLength="33" lengthAdjust="spacingAndGlyphs">Output 2</text>
<circle cx="582.1" cy="295" r="14.1" fill="#b240d8"/>
<text x="581.45" y="318.35" font-size="8.8" fill="#9b30c3" text-anchor="middle" textLength="15.6" lengthAdjust="spacingAndGlyphs">Sine</text>
<circle cx="582.1" cy="339.8" r="14.1" fill="#b240d8"/>
<text x="581.45" y="363.05" font-size="8.8" fill="#9b30c3" text-anchor="middle" textLength="19.2" lengthAdjust="spacingAndGlyphs">Burst</text>
<circle cx="582.1" cy="384.5" r="14.1" fill="#b240d8"/>
<text x="581.45" y="407.2" font-size="8.8" fill="#9b30c3" text-anchor="middle" textLength="17.2" lengthAdjust="spacingAndGlyphs">Load</text>
<path d="M582.3 245.8V254.8" stroke="#fff" stroke-width="2.9" stroke-linecap="round"/>
<path d="M572.5 295.3L572.99 294.56L573.47 293.85L573.96 293.17L574.44 292.54L574.92 291.98L575.41 291.5L575.89 291.11L576.38 290.83L576.87 290.66L577.35 290.6L577.84 290.66L578.32 290.83L578.8 291.11L579.29 291.5L579.77 291.98L580.26 292.54L580.75 293.17L581.23 293.85L581.72 294.56L582.2 295.3L582.68 296.04L583.17 296.75L583.65 297.43L584.14 298.06L584.62 298.62L585.11 299.1L585.6 299.49L586.08 299.77L586.57 299.94L587.05 300L587.53 299.94L588.02 299.77L588.5 299.49L588.99 299.1L589.48 298.62L589.96 298.06L590.45 297.43L590.93 296.75L591.41 296.04L591.9 295.3" fill="none" stroke="#fff" stroke-width="1.7" stroke-linecap="round" stroke-linejoin="round"/>
<path d="M572.2 339.4L572.32 338.68L572.44 337.97L572.56 337.27L572.68 336.59L572.8 335.95L572.92 335.34L573.04 334.78L573.16 334.27L573.28 333.82L573.4 333.42L573.52 333.1L573.64 332.84L573.76 332.65L573.88 332.54L574 332.5L574.12 332.54L574.24 332.65L574.36 332.84L574.48 333.1L574.6 333.42L574.72 333.82L574.84 334.27L574.96 334.78L575.08 335.34L575.2 335.95L575.32 336.59L575.44 337.27L575.56 337.97L575.68 338.68L575.8 339.4L575.92 340.12L576.04 340.83L576.16 341.53L576.28 342.21L576.4 342.85L576.52 343.46L576.64 344.02L576.76 344.53L576.88 344.98L577 345.38L577.12 345.7L577.24 345.96L577.36 346.15L577.48 346.26L577.6 346.3L577.72 346.26L577.84 346.15L577.96 345.96L578.08 345.7L578.2 345.38L578.32 344.98L578.44 344.53L578.56 344.02L578.68 343.46L578.8 342.85L578.92 342.21L579.04 341.53L579.16 340.83L579.28 340.12L579.4 339.4L584.7 339.4L584.82 338.68L584.94 337.97L585.06 337.27L585.18 336.59L585.3 335.95L585.42 335.34L585.54 334.78L585.66 334.27L585.78 333.82L585.9 333.42L586.02 333.1L586.14 332.84L586.26 332.65L586.38 332.54L586.5 332.5L586.62 332.54L586.74 332.65L586.86 332.84L586.98 333.1L587.1 333.42L587.22 333.82L587.34 334.27L587.46 334.78L587.58 335.34L587.7 335.95L587.82 336.59L587.94 337.27L588.06 337.97L588.18 338.68L588.3 339.4L588.42 340.12L588.54 340.83L588.66 341.53L588.78 342.21L588.9 342.85L589.02 343.46L589.14 344.02L589.26 344.53L589.38 344.98L589.5 345.38L589.62 345.7L589.74 345.96L589.86 346.15L589.98 346.26L590.1 346.3L590.22 346.26L590.34 346.15L590.46 345.96L590.58 345.7L590.7 345.38L590.82 344.98L590.94 344.53L591.06 344.02L591.18 343.46L591.3 342.85L591.42 342.21L591.54 341.53L591.66 340.83L591.78 340.12L591.9 339.4" fill="none" stroke="#fff" stroke-width="1.15" stroke-linecap="round" stroke-linejoin="round"/>
<text x="572.2" y="387.95" font-size="9.8" font-weight="bold" fill="#fff" textLength="10.9" lengthAdjust="spacingAndGlyphs">50</text>
<text x="585.7" y="387.95" font-size="9.8" font-weight="bold" fill="#fff" textLength="7.2" lengthAdjust="spacingAndGlyphs">Ω</text>
<path d="M339.5 324.2L356.5 324.2L356.5 324.2L356.67 321.21L356.83 318.23L357 315.28L357.16 312.36L357.32 309.49L357.49 306.68L357.65 303.93L357.82 301.27L357.99 298.69L358.15 296.22L358.31 293.86L358.48 291.62L358.64 289.5L358.81 287.52L358.98 285.69L359.14 284.01L359.31 282.49L359.47 281.13L359.63 279.94L359.8 278.93L359.96 278.1L360.13 277.44L360.3 276.98L360.46 276.69L360.62 276.6L360.79 276.69L360.95 276.98L361.12 277.44L361.29 278.1L361.45 278.93L361.62 279.94L361.78 281.13L361.94 282.49L362.11 284.01L362.27 285.69L362.44 287.52L362.61 289.5L362.77 291.62L362.94 293.86L363.1 296.22L363.26 298.69L363.43 301.27L363.6 303.93L363.76 306.68L363.93 309.49L364.09 312.36L364.25 315.28L364.42 318.23L364.58 321.21L364.75 324.2L364.92 327.19L365.08 330.17L365.25 333.12L365.41 336.04L365.57 338.91L365.74 341.72L365.9 344.47L366.07 347.13L366.24 349.71L366.4 352.18L366.56 354.54L366.73 356.78L366.89 358.9L367.06 360.88L367.23 362.71L367.39 364.39L367.56 365.91L367.72 367.27L367.88 368.46L368.05 369.47L368.21 370.3L368.38 370.96L368.55 371.42L368.71 371.71L368.88 371.8L369.04 371.71L369.2 371.42L369.37 370.96L369.54 370.3L369.7 369.47L369.87 368.46L370.03 367.27L370.19 365.91L370.36 364.39L370.52 362.71L370.69 360.88L370.86 358.9L371.02 356.78L371.19 354.54L371.35 352.18L371.51 349.71L371.68 347.13L371.85 344.47L372.01 341.72L372.18 338.91L372.34 336.04L372.5 333.12L372.67 330.17L372.83 327.19L373 324.2L373.17 321.21L373.33 318.23L373.5 315.28L373.66 312.36L373.82 309.49L373.99 306.68L374.15 303.93L374.32 301.27L374.49 298.69L374.65 296.22L374.81 293.86L374.98 291.62L375.14 289.5L375.31 287.52L375.48 285.69L375.64 284.01L375.81 282.49L375.97 281.13L376.13 279.94L376.3 278.93L376.46 278.1L376.63 277.44L376.8 276.98L376.96 276.69L377.12 276.6L377.29 276.69L377.45 276.98L377.62 277.44L377.79 278.1L377.95 278.93L378.12 279.94L378.28 281.13L378.44 282.49L378.61 284.01L378.77 285.69L378.94 287.52L379.11 289.5L379.27 291.62L379.44 293.86L379.6 296.22L379.76 298.69L379.93 301.27L380.1 303.93L380.26 306.68L380.43 309.49L380.59 312.36L380.75 315.28L380.92 318.23L381.08 321.21L381.25 324.2L381.42 327.19L381.58 330.17L381.75 333.12L381.91 336.04L382.07 338.91L382.24 341.72L382.4 344.47L382.57 347.13L382.74 349.71L382.9 352.18L383.06 354.54L383.23 356.78L383.39 358.9L383.56 360.88L383.73 362.71L383.89 364.39L384.06 365.91L384.22 367.27L384.38 368.46L384.55 369.47L384.71 370.3L384.88 370.96L385.05 371.42L385.21 371.71L385.38 371.8L385.54 371.71L385.7 371.42L385.87 370.96L386.04 370.3L386.2 369.47L386.37 368.46L386.53 367.27L386.69 365.91L386.86 364.39L387.02 362.71L387.19 360.88L387.36 358.9L387.52 356.78L387.69 354.54L387.85 352.18L388.01 349.71L388.18 347.13L388.35 344.47L388.51 341.72L388.68 338.91L388.84 336.04L389 333.12L389.17 330.17L389.33 327.19L389.5 324.2L389.67 321.21L389.83 318.23L390 315.28L390.16 312.36L390.32 309.49L390.49 306.68L390.65 303.93L390.82 301.27L390.99 298.69L391.15 296.22L391.31 293.86L391.48 291.62L391.64 289.5L391.81 287.52L391.98 285.69L392.14 284.01L392.31 282.49L392.47 281.13L392.63 279.94L392.8 278.93L392.97 278.1L393.13 277.44L393.3 276.98L393.46 276.69L393.62 276.6L393.79 276.69L393.95 276.98L394.12 277.44L394.28 278.1L394.45 278.93L394.62 279.94L394.78 281.13L394.94 282.49L395.11 284.01L395.27 285.69L395.44 287.52L395.61 289.5L395.77 291.62L395.94 293.86L396.1 296.22L396.26 298.69L396.43 301.27L396.6 303.93L396.76 306.68L396.93 309.49L397.09 312.36L397.25 315.28L397.42 318.23L397.58 321.21L397.75 324.2L397.92 327.19L398.08 330.17L398.25 333.12L398.41 336.04L398.57 338.91L398.74 341.72L398.9 344.47L399.07 347.13L399.24 349.71L399.4 352.18L399.56 354.54L399.73 356.78L399.89 358.9L400.06 360.88L400.23 362.71L400.39 364.39L400.56 365.91L400.72 367.27L400.88 368.46L401.05 369.47L401.21 370.3L401.38 370.96L401.55 371.42L401.71 371.71L401.88 371.8L402.04 371.71L402.2 371.42L402.37 370.96L402.54 370.3L402.7 369.47L402.87 368.46L403.03 367.27L403.19 365.91L403.36 364.39L403.52 362.71L403.69 360.88L403.86 358.9L404.02 356.78L404.19 354.54L404.35 352.18L404.51 349.71L404.68 347.13L404.85 344.47L405.01 341.72L405.18 338.91L405.34 336.04L405.5 333.12L405.67 330.17L405.83 327.19L406 324.2L504.5 324.2Z" fill="#f6e9fb" stroke="none"/>
<path d="M339.5 324.2L356.5 324.2L356.5 324.2L356.67 321.21L356.83 318.23L357 315.28L357.16 312.36L357.32 309.49L357.49 306.68L357.65 303.93L357.82 301.27L357.99 298.69L358.15 296.22L358.31 293.86L358.48 291.62L358.64 289.5L358.81 287.52L358.98 285.69L359.14 284.01L359.31 282.49L359.47 281.13L359.63 279.94L359.8 278.93L359.96 278.1L360.13 277.44L360.3 276.98L360.46 276.69L360.62 276.6L360.79 276.69L360.95 276.98L361.12 277.44L361.29 278.1L361.45 278.93L361.62 279.94L361.78 281.13L361.94 282.49L362.11 284.01L362.27 285.69L362.44 287.52L362.61 289.5L362.77 291.62L362.94 293.86L363.1 296.22L363.26 298.69L363.43 301.27L363.6 303.93L363.76 306.68L363.93 309.49L364.09 312.36L364.25 315.28L364.42 318.23L364.58 321.21L364.75 324.2L364.92 327.19L365.08 330.17L365.25 333.12L365.41 336.04L365.57 338.91L365.74 341.72L365.9 344.47L366.07 347.13L366.24 349.71L366.4 352.18L366.56 354.54L366.73 356.78L366.89 358.9L367.06 360.88L367.23 362.71L367.39 364.39L367.56 365.91L367.72 367.27L367.88 368.46L368.05 369.47L368.21 370.3L368.38 370.96L368.55 371.42L368.71 371.71L368.88 371.8L369.04 371.71L369.2 371.42L369.37 370.96L369.54 370.3L369.7 369.47L369.87 368.46L370.03 367.27L370.19 365.91L370.36 364.39L370.52 362.71L370.69 360.88L370.86 358.9L371.02 356.78L371.19 354.54L371.35 352.18L371.51 349.71L371.68 347.13L371.85 344.47L372.01 341.72L372.18 338.91L372.34 336.04L372.5 333.12L372.67 330.17L372.83 327.19L373 324.2L373.17 321.21L373.33 318.23L373.5 315.28L373.66 312.36L373.82 309.49L373.99 306.68L374.15 303.93L374.32 301.27L374.49 298.69L374.65 296.22L374.81 293.86L374.98 291.62L375.14 289.5L375.31 287.52L375.48 285.69L375.64 284.01L375.81 282.49L375.97 281.13L376.13 279.94L376.3 278.93L376.46 278.1L376.63 277.44L376.8 276.98L376.96 276.69L377.12 276.6L377.29 276.69L377.45 276.98L377.62 277.44L377.79 278.1L377.95 278.93L378.12 279.94L378.28 281.13L378.44 282.49L378.61 284.01L378.77 285.69L378.94 287.52L379.11 289.5L379.27 291.62L379.44 293.86L379.6 296.22L379.76 298.69L379.93 301.27L380.1 303.93L380.26 306.68L380.43 309.49L380.59 312.36L380.75 315.28L380.92 318.23L381.08 321.21L381.25 324.2L381.42 327.19L381.58 330.17L381.75 333.12L381.91 336.04L382.07 338.91L382.24 341.72L382.4 344.47L382.57 347.13L382.74 349.71L382.9 352.18L383.06 354.54L383.23 356.78L383.39 358.9L383.56 360.88L383.73 362.71L383.89 364.39L384.06 365.91L384.22 367.27L384.38 368.46L384.55 369.47L384.71 370.3L384.88 370.96L385.05 371.42L385.21 371.71L385.38 371.8L385.54 371.71L385.7 371.42L385.87 370.96L386.04 370.3L386.2 369.47L386.37 368.46L386.53 367.27L386.69 365.91L386.86 364.39L387.02 362.71L387.19 360.88L387.36 358.9L387.52 356.78L387.69 354.54L387.85 352.18L388.01 349.71L388.18 347.13L388.35 344.47L388.51 341.72L388.68 338.91L388.84 336.04L389 333.12L389.17 330.17L389.33 327.19L389.5 324.2L389.67 321.21L389.83 318.23L390 315.28L390.16 312.36L390.32 309.49L390.49 306.68L390.65 303.93L390.82 301.27L390.99 298.69L391.15 296.22L391.31 293.86L391.48 291.62L391.64 289.5L391.81 287.52L391.98 285.69L392.14 284.01L392.31 282.49L392.47 281.13L392.63 279.94L392.8 278.93L392.97 278.1L393.13 277.44L393.3 276.98L393.46 276.69L393.62 276.6L393.79 276.69L393.95 276.98L394.12 277.44L394.28 278.1L394.45 278.93L394.62 279.94L394.78 281.13L394.94 282.49L395.11 284.01L395.27 285.69L395.44 287.52L395.61 289.5L395.77 291.62L395.94 293.86L396.1 296.22L396.26 298.69L396.43 301.27L396.6 303.93L396.76 306.68L396.93 309.49L397.09 312.36L397.25 315.28L397.42 318.23L397.58 321.21L397.75 324.2L397.92 327.19L398.08 330.17L398.25 333.12L398.41 336.04L398.57 338.91L398.74 341.72L398.9 344.47L399.07 347.13L399.24 349.71L399.4 352.18L399.56 354.54L399.73 356.78L399.89 358.9L400.06 360.88L400.23 362.71L400.39 364.39L400.56 365.91L400.72 367.27L400.88 368.46L401.05 369.47L401.21 370.3L401.38 370.96L401.55 371.42L401.71 371.71L401.88 371.8L402.04 371.71L402.2 371.42L402.37 370.96L402.54 370.3L402.7 369.47L402.87 368.46L403.03 367.27L403.19 365.91L403.36 364.39L403.52 362.71L403.69 360.88L403.86 358.9L404.02 356.78L404.19 354.54L404.35 352.18L404.51 349.71L404.68 347.13L404.85 344.47L405.01 341.72L405.18 338.91L405.34 336.04L405.5 333.12L405.67 330.17L405.83 327.19L406 324.2L504.5 324.2" fill="none" stroke="#b240d8" stroke-width="1.55" stroke-linejoin="round"/>
<path d="M339.5 371.8H356.8V276.6H365V371.8H504.5" fill="none" stroke="#b240d8" stroke-width="1.75" stroke-dasharray="2.7 1.65"/>
<path d="M340.2 243.4H504.4M340.2 241.1V245.7M504.4 241.1V245.7" stroke="#a93bd0" stroke-width="0.8" fill="none"/>
<rect x="399.6" y="236.7" width="46" height="13.4" rx="6.7" fill="#f7ecfb" stroke="#a93bd0" stroke-width="0.85"/>
<text x="422.6" y="247.05" font-size="9.9" fill="#9b30c3" text-anchor="middle" textLength="31.5" lengthAdjust="spacingAndGlyphs">1.000 s</text>
<path d="M356.6 262.5H405.6M356.6 260.2V264.8M405.6 260.2V264.8" stroke="#a93bd0" stroke-width="0.8" fill="none"/>
<rect x="361.95" y="255.9" width="38.7" height="13.2" rx="6.6" fill="#f7ecfb" stroke="#a93bd0" stroke-width="0.85"/>
<text x="381.3" y="266.15" font-size="9.9" fill="#9b30c3" text-anchor="middle" textLength="24.5" lengthAdjust="spacingAndGlyphs">3 cyc</text>
<rect x="383.4" y="379.95" width="78.2" height="13.3" rx="6.65" fill="#f7ecfb" stroke="#a93bd0" stroke-width="0.85"/>
<text x="422.5" y="390.25" font-size="9.9" fill="#9b30c3" text-anchor="middle" textLength="64" lengthAdjust="spacingAndGlyphs">Mode: N cycle</text>
<rect x="379.8" y="398.8" width="84.8" height="13.4" rx="6.7" fill="#f7ecfb" stroke="#a93bd0" stroke-width="0.85"/>
<text x="422.2" y="409.15" font-size="9.9" fill="#9b30c3" text-anchor="middle" textLength="69.4" lengthAdjust="spacingAndGlyphs">Trigger: Internal</text>
</svg>
</body></html>
